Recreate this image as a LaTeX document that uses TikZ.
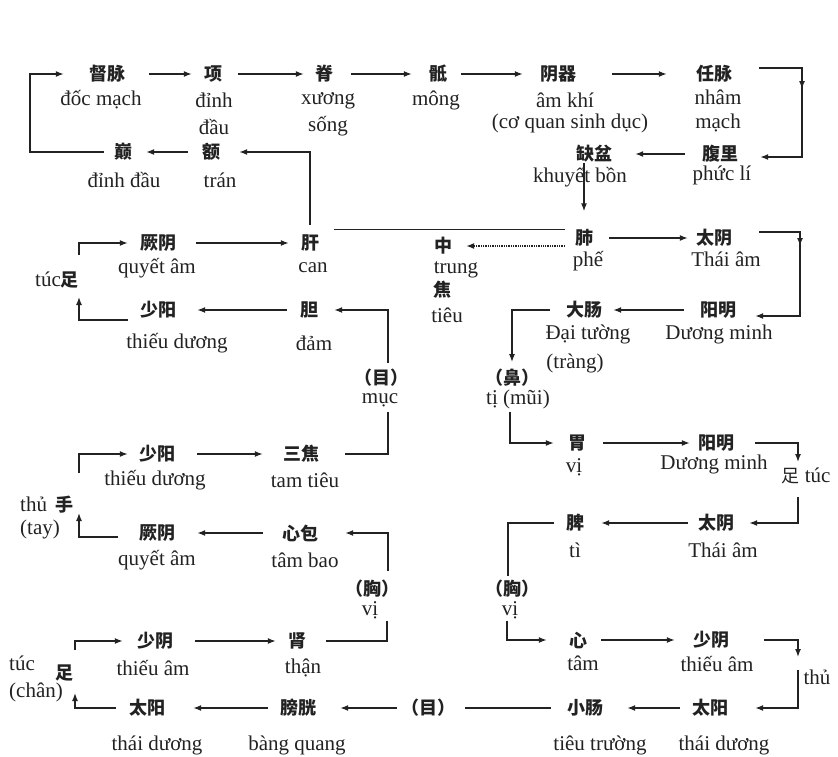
\documentclass[tikz,border=0pt]{standalone}
\usepackage{fontspec}
\setmainfont{Liberation Serif}
\newfontfamily\cjk{Noto Sans CJK SC}
\usetikzlibrary{arrows.meta,calc}
\definecolor{ink}{HTML}{222222}
\begin{document}
\begin{tikzpicture}[x=1pt,y=-1pt,
  cn/.style={font=\cjk\bfseries\fontsize{18}{18}\selectfont, inner sep=0pt, text=ink},
  vn/.style={font=\fontsize{21}{24}\selectfont, inner sep=0pt, align=center, text=ink},
  arr/.style={draw=ink, line width=1.4pt, -{Latex[length=8pt,width=6pt]}, shorten <=16pt, shorten >=13pt},
  ln/.style={draw=ink, line width=1.4pt, shorten <=16pt, shorten >=13pt},
  dotarr/.style={draw=ink, line width=1.3pt, densely dotted, -{Latex[length=8pt,width=6pt]}, shorten <=10pt, shorten >=14pt},
  tip/.style={draw=ink, line width=1.4pt, -{Latex[length=8pt,width=6pt]}}
]
\fill[white] (0,0) rectangle (838,756);
\useasboundingbox (0,0) rectangle (838,756);

% ---------- top row ----------
\node[cn] (dumai) at (107,74) {督脉};
\node[vn] (dumaiL) at (101,100) {đốc mạch};
\node[cn] (xiang) at (213,74) {项};
\node[vn,font=\fontsize{21}{27}\selectfont] (xiangL) at (214,114) {đỉnh\\đầu};
\node[cn] (ji) at (324,74) {脊};
\node[vn,font=\fontsize{21}{27}\selectfont] (jiL) at (328,114) {xương\\sống};
\node[cn] (di) at (438,74) {骶};
\node[vn] (diL) at (436,100) {mông};
\node[cn] (yinqi) at (558,74) {阴器};
\node[vn] (yinqiL) at (565,100) {âm khí};
\node[vn] (yinqiL2) at (570,123) {(cơ quan sinh dục)};
\node[cn] (renmai) at (714,74) {任脉};
\node[vn] (renmaiL) at (718,111) {nhâm\\mạch};

\node[cn] (fuli) at (720,154) {腹里};
\node[vn] (fuliL) at (722,175) {phức lí};
\node[cn] (quepen) at (594,154) {缺盆};
\node[vn] (quepenL) at (580,177) {khuyết bồn};
\node[cn] (dian) at (123,152) {巅};
\node[vn] (dianL) at (124,180) {đỉnh đầu};
\node[cn] (e) at (211,152) {额};
\node[vn] (eL) at (220,180) {trán};

\draw[arr, shorten <=24pt, shorten >=12pt] (dumai) -- (xiang);
\draw[arr, shorten <=16pt, shorten >=11pt] (xiang) -- (ji);
\draw[arr, shorten <=18pt, shorten >=17pt] (ji) -- (di);
\draw[arr, shorten <=14pt, shorten >=17pt] (di) -- (yinqi);
\draw[arr, shorten <=36pt, shorten >=29pt] (yinqi) -- (renmai);

\coordinate (rtop) at (802,68);
\coordinate (rc) at (802,157);
\draw[arr, shorten <=27pt, shorten >=22pt] ([yshift=6pt]renmai.east) -| (rc) -- (fuli.east |- rc);
\draw[tip] (rtop) -- ++(0,21);
\draw[arr, shorten <=17pt, shorten >=23pt] (fuli) -- (quepen);

\coordinate (tlc) at (30,152);
\draw[arr, shorten <=10pt, shorten >=25pt] (dian) -- (tlc) |- (dumai);
\draw[arr, shorten <=14pt, shorten >=14pt] (e) -- (dian);

% ---------- liver / lung row ----------
\node[cn] (jueyin1) at (158,243) {厥阴};
\node[vn] (jueyin1L) at (157,268) {quyết âm};
\node[cn] (gan) at (310,243) {肝};
\node[vn] (ganL) at (313,268) {can};
\node[cn] (fei) at (584,238) {肺};
\node[vn] (feiL) at (588,261) {phế};
\node[cn] (zhong) at (443,246) {中};
\node[vn] (zhongL) at (456,270) {trung};
\node[cn] (jiao) at (442,290) {焦};
\node[vn] (jiaoL) at (447,315) {tiêu};
\node[cn] (taiyin1) at (714,238) {太阴};
\node[vn] (taiyin1L) at (726,259) {Thái âm};

\draw[arr, shorten <=20pt, shorten >=12pt] (jueyin1) -- (gan);
\draw[arr, shorten <=10pt, shorten >=19pt] (gan) |- (e);
\draw[ln, shorten <=0pt, shorten >=0pt] ([xshift=15pt]gan.east |- fei.north) -- ([xshift=-10pt]fei.west |- fei.north);
\draw[dotarr] (fei.west |- zhong) -- (zhong);
\draw[arr, shorten <=0pt, shorten >=18pt] (quepen.south -| fei) -- (fei);
\draw[arr, shorten <=16pt, shorten >=8pt] (fei) -- (taiyin1);

\node[cn] (yangming1) at (718,310) {阳明};
\node[vn] (yangming1L) at (719,334) {Dương minh};
\node[cn] (dachang) at (584,310) {大肠};
\node[vn] (dachangL) at (588,334) {Đại tường};
\node[vn] (dachangL2) at (575,363) {(tràng)};

\coordinate (r1top) at (800,232);
\coordinate (r1) at (800,316);
\draw[arr, shorten <=27pt, shorten >=19pt] ([yshift=6pt]taiyin1.east) -| (r1) -- (yangming1.east |- r1);
\draw[tip] (r1top) -- ++(0,14);
\draw[arr, shorten <=16pt, shorten >=11pt] (yangming1) -- (dachang);

\node[cn] (bi) at (512,378) {（鼻）};
\node[vn] (biL) at (518,399) {tị (mũi)};
\draw[arr, shorten <=16pt, shorten >=7pt] (dachang) -| (bi);

% gallbladder
\node[cn] (shaoyang1) at (158,310) {少阳};
\node[vn] (shaoyang1L) at (177,343) {thiếu dương};
\node[cn] (dan) at (309,310) {胆};
\node[vn] (danL) at (314,343) {đảm};
\node[cn] (mu) at (381,378) {（目）};
\node[vn] (muL) at (380,400) {mục};
\node[vn] (zu1) at (57,280) {túc{\cjk\bfseries\fontsize{18}{18}\selectfont 足}};

\draw[arr, shorten <=6pt, shorten >=16pt] ([xshift=7pt]mu.north) |- (dan);
\draw[arr, shorten <=13pt, shorten >=21pt] (dan) -- (shaoyang1);
\coordinate (zl1) at (79,280);
\draw[arr, shorten <=12pt, shorten >=17pt] ([yshift=-10pt]shaoyang1.west) -| (zl1);
\draw[arr, shorten <=25pt, shorten >=12pt] (zl1) |- (jueyin1);

% ---------- hand shaoyang / jueyin ----------
\node[cn] (shaoyang2) at (157,454) {少阳};
\node[vn] (shaoyang2L) at (155,480) {thiếu dương};
\node[cn] (sanjiao) at (301,454) {三焦};
\node[vn] (sanjiaoL) at (305,480) {tam tiêu};
\node[cn] (jueyin2) at (157,533) {厥阴};
\node[vn] (jueyin2L) at (157,560) {quyết âm};
\node[cn] (xinbao) at (300,533) {心包};
\node[vn] (xinbaoL) at (305,560) {tâm bao};
\node[vn] (shou1) at (47,505) {thủ\, {\cjk\bfseries\fontsize{18}{18}\selectfont 手}};
\node[vn] (shou1L) at (40,529) {(tay)};
\node[cn] (xiong1) at (372,589) {（胸）};
\node[vn] (xiong1L) at (370,610) {vị};

\draw[arr, shorten <=22pt, shorten >=20pt] (shaoyang2) -- (sanjiao);
\draw[ln, shorten <=26pt, shorten >=5pt] (sanjiao) -| ([xshift=8pt]muL.south);
\draw[arr, shorten <=9pt, shorten >=27pt] ([xshift=16pt]xiong1.north) |- (xinbao);
\draw[arr, shorten <=19pt, shorten >=22pt] (xinbao) -- (jueyin2);
\coordinate (zl2) at (79,505);
\draw[arr, shorten <=21pt, shorten >=8pt] ([yshift=-4pt]jueyin2.west) -| (zl2);
\draw[arr, shorten <=32pt, shorten >=11pt] (zl2) |- (shaoyang2);

% ---------- stomach / spleen ----------
\node[cn] (wei) at (577,443) {胃};
\node[vn] (weiL) at (574,467) {vị};
\node[cn] (yangming2) at (716,443) {阳明};
\node[vn] (yangming2L) at (714,464) {Dương minh};
\node[vn] (zu2) at (806,476) {{\cjk\fontsize{18}{18}\selectfont 足} túc};
\node[cn] (taiyin2) at (716,523) {太阴};
\node[vn] (taiyin2L) at (723,550) {Thái âm};
\node[cn] (pi) at (575,523) {脾};
\node[vn] (piL) at (575,550) {tì};
\node[cn] (xiong2) at (512,589) {（胸）};
\node[vn] (xiong2L) at (510,610) {vị};
\node[cn] (xin) at (578,640) {心};
\node[vn] (xinL) at (583,663) {tâm};

\draw[arr, shorten <=3pt, shorten >=14pt] ([xshift=-8pt]biL.south) |- (wei);
\draw[arr, shorten <=17pt, shorten >=8pt] (wei) -- (yangming2);
\coordinate (zr) at (798,475);
\draw[arr, shorten <=21pt, shorten >=13pt] (yangming2) -| (zr);
\draw[arr, shorten <=22pt, shorten >=15pt] (zr) |- (taiyin2);
\draw[arr, shorten <=10pt, shorten >=17pt] (taiyin2) -- (pi);
\draw[ln, shorten <=12pt, shorten >=4pt] (pi) -| ([xshift=-4pt]xiong2.north);
\draw[arr, shorten <=2pt, shorten >=22pt] ([xshift=-3pt]xiong2L.south) |- (xin);

% ---------- heart / small intestine ----------
\node[cn] (shaoyin2) at (711,640) {少阴};
\node[vn] (shaoyin2L) at (717,664) {thiếu âm};
\node[vn] (shou2) at (817,677) {thủ};
\node[cn] (taiyang2) at (710,708) {太阳};
\node[vn] (taiyang2L) at (724,745) {thái dương};
\node[cn] (xiaochang) at (585,708) {小肠};
\node[vn] (xiaochangL) at (600,745) {tiêu trường};
\node[cn] (mu2) at (428,708) {（目）};

\draw[arr, shorten <=14pt, shorten >=18pt] (xin) -- (shaoyin2);
\coordinate (sr) at (798,667);
\draw[arr, shorten <=35pt, shorten >=10pt] (shaoyin2) -| (sr);
\draw[arr, shorten <=3pt, shorten >=27pt] (sr) |- (taiyang2);
\draw[arr, shorten <=12pt, shorten >=24pt] (taiyang2) -- (xiaochang);
\draw[ln, shorten <=16pt, shorten >=10pt] (xiaochang) -- (mu2);

% ---------- kidney / bladder ----------
\node[cn] (shaoyin1) at (155,641) {少阴};
\node[vn] (shaoyin1L) at (153,668) {thiếu âm};
\node[cn] (shen) at (297,641) {肾};
\node[vn] (shenL) at (303,668) {thận};
\node[cn] (pangguang) at (298,708) {膀胱};
\node[vn] (pangguangL) at (297,745) {bàng quang};
\node[cn] (taiyang1) at (147,708) {太阳};
\node[vn] (taiyang1L) at (157,745) {thái dương};
\node[vn] (zu3a) at (22,663) {túc};
\node[cn] (zu3) at (64,673) {足};
\node[vn] (zu3b) at (36,692) {(chân)};

\draw[arr, shorten <=4pt, shorten >=24pt] (mu2) -- (pangguang);
\draw[arr, shorten <=12pt, shorten >=28pt] (pangguang) -- (taiyang1);
\coordinate (zl3) at (75,678);
\draw[arr, shorten <=13pt, shorten >=15pt] (taiyang1) -| (zl3);
\draw[arr, shorten <=28pt, shorten >=14pt] (zl3) |- (shaoyin1);
\draw[arr, shorten <=22pt, shorten >=12pt] (shaoyin1) -- (shen);
\draw[ln, shorten <=20pt, shorten >=2pt] (shen) -| ([xshift=17pt]xiong1L.south);
\end{tikzpicture}
\end{document}
